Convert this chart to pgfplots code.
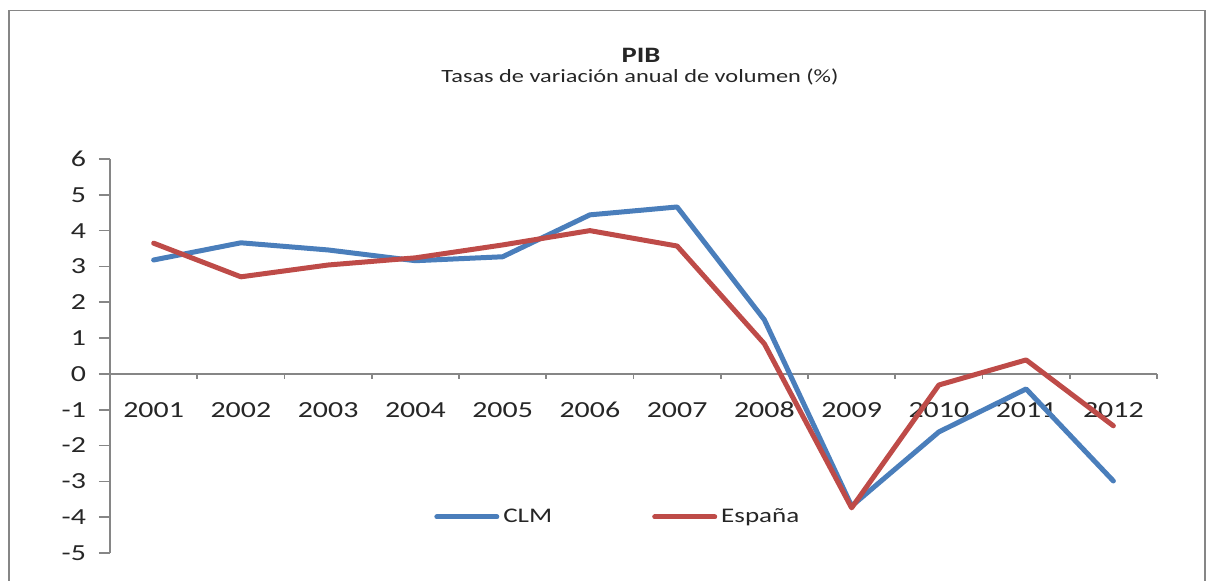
\documentclass[border=0pt]{standalone}
\usepackage{pgfplots}
\pgfplotsset{compat=1.18}
\usepackage{fontspec}
\setmainfont[FakeStretch=1.3]{Carlito}
\definecolor{clm}{HTML}{4A7EBB}
\definecolor{esp}{HTML}{BE4B48}
\definecolor{axgray}{HTML}{868686}
\begin{document}
\begin{tikzpicture}
\useasboundingbox (0,0) rectangle (606pt,290.5pt);
\draw[axgray, line width=0.8pt] (4.5pt,-20pt) -- (4.5pt,285.25pt) -- (602.5pt,285.25pt) -- (602.5pt,-20pt);
\node[font=\bfseries\fontsize{11}{13}\selectfont, text=black!85] at (320.5pt,263pt) {PIB};
\node[font=\fontsize{9.35}{11}\selectfont, text=black!85] at (320pt,252pt) {Tasas de variación anual de volumen (\%)};
\begin{axis}[
  at={(55pt,14pt)}, anchor=south west,
  scale only axis, width=523.5pt, height=197pt,
  xmin=-0.5, xmax=11.5, ymin=-5, ymax=6,
  axis x line*=middle, axis y line*=left,
  axis line style={axgray, line width=0.8pt},
  xtick={0,...,11},
  xticklabels={2001,2002,2003,2004,2005,2006,2007,2008,2009,2010,2011,2012},
  minor xtick={0.5,1.5,...,11.5},
  major x tick style={draw=none},
  minor x tick style={axgray, line width=0.8pt},
  minor tick length=2.5pt,
  ytick={-5,...,6},
  yticklabels={-5,-4,-3,-2,-1,0,1,2,3,4,5,6},
  y tick style={axgray, line width=0.8pt},
  major tick length=5.5pt,
  tick align=outside,
  tick label style={font=\fontsize{11.5}{13}\selectfont, text=black!85},
  x tick label style={anchor=center, yshift=-12.5pt},
  y tick label style={xshift=-3pt},
  legend style={at={(0.486,0.0914)}, anchor=center, draw=none, fill=none,
    font=\fontsize{10.4}{12}\selectfont, text=black!85,
    /tikz/every even column/.append style={column sep=48pt}},
  legend columns=2,
  legend image code/.code={\draw[#1] (0pt,0pt) -- (30pt,0pt);},
  every axis plot/.append style={line width=2.5pt, line join=round, line cap=round},
]
\addplot[clm] coordinates {(0,3.18) (1,3.66) (2,3.46) (3,3.16) (4,3.27) (5,4.44) (6,4.66) (7,1.51) (8,-3.69) (9,-1.62) (10,-0.42) (11,-2.99)};
\addlegendentry{CLM}
\addplot[esp] coordinates {(0,3.65) (1,2.71) (2,3.04) (3,3.24) (4,3.6) (5,4.0) (6,3.57) (7,0.84) (8,-3.74) (9,-0.31) (10,0.39) (11,-1.45)};
\addlegendentry{España}
\end{axis}
\end{tikzpicture}
\end{document}
